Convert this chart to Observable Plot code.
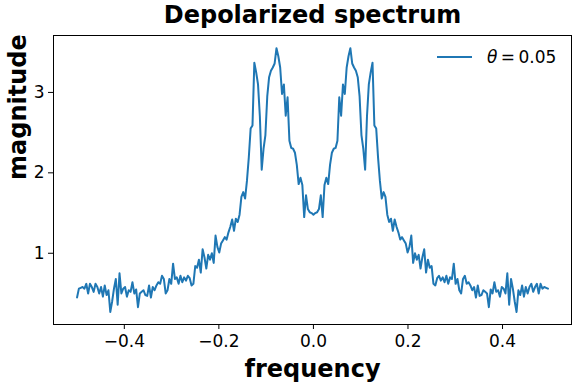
<!DOCTYPE html>
<html>
<head>
<meta charset="utf-8">
<script src="https://cdn.jsdelivr.net/npm/d3@7"></script>
<script src="https://cdn.jsdelivr.net/npm/@observablehq/plot@0.6"></script>
<style>
  html, body { margin: 0; padding: 0; background: white; }
  #wrap { position: relative; width: 574px; height: 384px; }
  #legend { position: absolute; left: 437px; top: 46px; height: 22px; display: flex; align-items: center;
            font-family: "DejaVu Sans", sans-serif; font-size: 17px; color: black; white-space: nowrap; }
  #legend .swatch { display: inline-block; width: 35px; height: 2px; background: #1f77b4; margin-right: 15px; }
</style>
</head>
<body>
<div id="wrap"><div id="legend"><span class="swatch"></span><span><i>θ</i>&#8201;=&#8201;0.05</span></div></div>
<script>
// Chart text
const title = "Depolarized spectrum";
const xLabel = "frequency";
const yLabel = "magnitude";
const seriesLabel = "θ = 0.05";

// Frequency grid: 256 points from -0.5 (step 1/256)
const nPoints = 256;
const freqStart = -0.5;

// Magnitudes for negative frequencies (-0.5 ... -1/256)
const magNeg = [
  0.45, 0.56, 0.57, 0.58, 0.56, 0.62, 0.50, 0.62, 0.58,
  0.52, 0.62, 0.58, 0.50, 0.58, 0.46, 0.60, 0.48, 0.54, 0.27,
  0.40, 0.56, 0.68, 0.36, 0.75, 0.50, 0.56, 0.58, 0.46, 0.54,
  0.52, 0.64, 0.50, 0.55, 0.33, 0.50, 0.52, 0.54, 0.48, 0.47,
  0.60, 0.45, 0.58, 0.54, 0.60, 0.64, 0.62, 0.72, 0.68, 0.50,
  0.54, 0.68, 0.62, 0.87, 0.68, 0.70, 0.62, 0.72, 0.64, 0.70,
  0.66, 0.72, 0.69, 0.60, 0.62, 0.84, 0.82, 0.92, 0.76, 1.05,
  0.95, 0.81, 0.98, 0.92, 1.00, 0.88, 1.22, 1.08, 1.01, 1.12,
  1.16, 1.20, 1.17, 1.26, 1.33, 1.42, 1.28, 1.43, 1.39, 1.48,
  1.70, 1.76, 1.68, 1.90, 2.19, 2.55, 2.59, 3.37, 3.25, 3.10,
  2.70, 2.04, 2.30, 2.47, 2.95, 3.19, 3.27, 3.31, 3.36, 3.55,
  3.45, 3.31, 2.98, 3.10, 2.71, 2.94, 2.40, 2.31, 2.30, 2.25,
  2.10, 1.86, 1.94, 1.85, 1.45, 1.72, 1.55, 1.51, 1.50
];
// Magnitudes for non-negative frequencies (0 ... 127/256)
const magPos = [
  1.48, 1.50, 1.51, 1.55, 1.72, 1.45, 1.85, 1.94, 1.86, 2.10,
  2.25, 2.30, 2.31, 2.40, 2.94, 2.71, 3.10, 2.98, 3.31, 3.45,
  3.55, 3.36, 3.31, 3.27, 3.19, 2.95, 2.47, 2.30, 2.04, 2.70,
  3.10, 3.25, 3.37, 2.59, 2.55, 2.19, 1.90, 1.68, 1.76, 1.70,
  1.48, 1.39, 1.43, 1.28, 1.42, 1.33, 1.26, 1.17, 1.20, 1.16,
  1.12, 1.01, 1.08, 1.22, 0.88, 1.00, 0.92, 0.98, 0.81, 0.95,
  1.05, 0.76, 0.92, 0.82, 0.84, 0.62, 0.60, 0.69, 0.72, 0.66,
  0.70, 0.64, 0.72, 0.62, 0.70, 0.68, 0.87, 0.62, 0.68, 0.54,
  0.50, 0.68, 0.72, 0.62, 0.64, 0.60, 0.54, 0.58, 0.45, 0.60,
  0.47, 0.48, 0.54, 0.52, 0.50, 0.33, 0.55, 0.50, 0.64, 0.52,
  0.54, 0.46, 0.58, 0.56, 0.50, 0.75, 0.36, 0.68, 0.56, 0.40,
  0.27, 0.54, 0.48, 0.60, 0.46, 0.58, 0.50, 0.58, 0.62, 0.52,
  0.58, 0.62, 0.50, 0.62, 0.56, 0.58, 0.57, 0.56
];

const xTicks = [-0.4, -0.2, 0.0, 0.2, 0.4];
const yTicks = [1, 2, 3];

const mags = magNeg.concat(magPos);
const data = mags.map((m, i) => ({f: freqStart + i / nPoints, m}));

const chart = Plot.plot({
  width: 574,
  height: 384,
  marginTop: 35,
  marginBottom: 60,
  marginLeft: 53,
  marginRight: 3,
  style: {fontFamily: "DejaVu Sans, sans-serif", fontSize: "17px", color: "black", background: "white"},
  x: {domain: [-0.5498, 0.5459]},
  y: {domain: [0.114, 3.708]},
  marks: [
    Plot.axisX({ticks: xTicks, tickFormat: d3.format(".1f"), tickSize: 5, tickPadding: 5, label: null, fontSize: 17}),
    Plot.axisY({ticks: yTicks, tickFormat: d3.format("d"), tickSize: 5, tickPadding: 4, label: null, fontSize: 17}),
    Plot.lineY(data, {x: "f", y: "m", stroke: "#1f77b4", strokeWidth: 2}),
    Plot.frame({stroke: "black", strokeWidth: 1}),
    Plot.text([title], {frameAnchor: "top", lineAnchor: "bottom", dy: -13, fontWeight: "bold", fontSize: 24, fill: "black"}),
    Plot.text([xLabel], {frameAnchor: "bottom", lineAnchor: "bottom", dy: 52, fontWeight: "bold", fontSize: 24, fill: "black"}),
    Plot.text([yLabel], {frameAnchor: "left", lineAnchor: "bottom", dx: -28, rotate: -90, fontWeight: "bold", fontSize: 24, fill: "black"})
  ]
});
document.getElementById("wrap").prepend(chart);
</script>
</body>
</html>
